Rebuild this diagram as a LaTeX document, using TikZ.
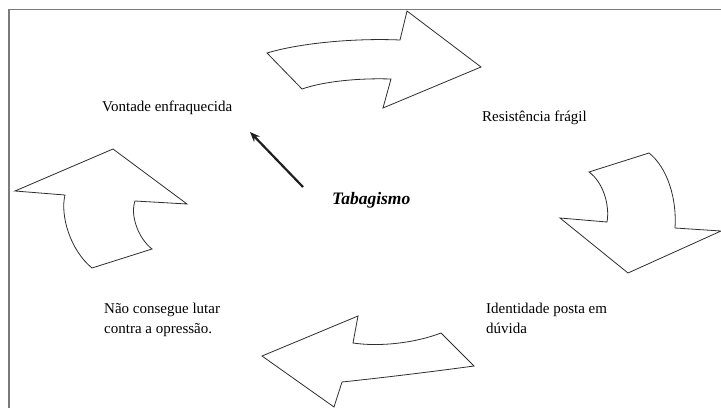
\documentclass[tikz,border=0pt]{standalone}
\usepackage{fontspec}
\setmainfont{Liberation Serif}
\usepackage{tikz}
\usepackage{xcolor}
\usetikzlibrary{
  positioning, arrows.meta, calc,
}
\definecolor{cFrame}  {HTML}{7A7A7A}
\definecolor{cOutline}{HTML}{2E2E2E}
\definecolor{cPointer}{HTML}{1E1E1E}

\begin{document}
\begin{tikzpicture}[x=1pt, y=-1pt,
    cyclearrow/.style={draw=cOutline, fill=white, line width=0.8pt, line join=miter},
    stagelabel/.style={font=\fontsize{15}{19.5}\selectfont, inner sep=0pt, align=left}]
  \useasboundingbox (0,0) rectangle (721,408);
  % frame (only top and left edges show)
  \draw[cFrame, line width=1pt] (8,9.5) -- (721,9.5);
  \draw[cFrame, line width=2.2pt] (9,9) -- (9,408);

  % four curved arrows round the cycle
  \draw[cyclearrow] (267,53) .. controls (300,43) and (355,38) .. (400,40)
    -- (407,11) -- (481,67) -- (383,108) -- (391,79)
    .. controls (360,78) and (325,81) .. (302,89) -- cycle;
  \draw[cyclearrow] (589,172) -- (649,153)
    .. controls (668,168) and (677,200) .. (675,228)
    -- (721,231) -- (628,273) -- (560,218) -- (607,222)
    .. controls (610,205) and (603,182) .. (589,172) -- cycle;
  \draw[cyclearrow] (358,316) -- (353,343)
    .. controls (380,347) and (415,343) .. (441,333)
    -- (474,366) .. controls (430,372) and (380,378) .. (342,382)
    -- (334,407) -- (262,356) -- cycle;
  \draw[cyclearrow] (15,191) -- (113,149) -- (187,204) -- (135,201)
    .. controls (130,215) and (138,238) .. (152,249)
    -- (92,268) .. controls (70,250) and (60,215) .. (65,195) -- cycle;

  % labels
  \node[stagelabel, anchor=base west] (vont) at (102,111) {Vontade enfraquecida};
  \node[stagelabel, anchor=base west] (resi) at (482,121) {Resistência frágil};
  \node[stagelabel, anchor=north west] (ident) at (486,303) {Identidade posta em\\dúvida};
  \node[stagelabel, anchor=north west] (nao) at (104,303) {Não consegue lutar\\contra a opressão.};
  \node[font=\fontsize{17.5}{20}\selectfont\bfseries\itshape, inner sep=0pt, anchor=base west]
    (tab) at (332,204) {Tabagismo};

  \coordinate (ptail) at (303,187);
  \coordinate (ptip) at (250,132);
  \draw[-{Stealth[length=10pt, width=8pt]}, line width=2.2pt, draw=cPointer] (ptail) -- (ptip);
\end{tikzpicture}
\end{document}
